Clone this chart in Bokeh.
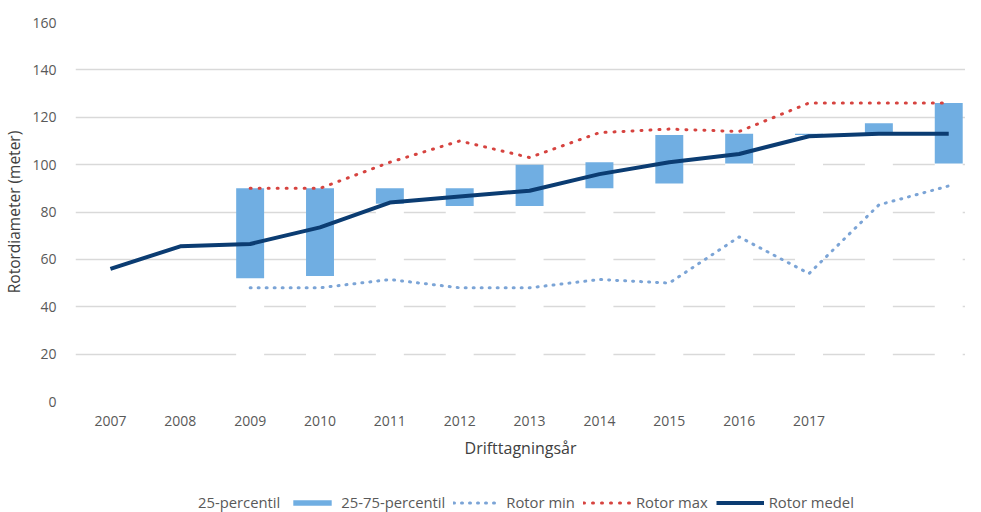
import numpy as np
from bokeh.plotting import figure
from bokeh.layouts import column
from bokeh.models import Range1d, Legend, LegendItem, FixedTicker
from bokeh.embed import file_html
from bokeh.resources import INLINE

nan = np.nan

# ---- data ----
years = ["2007", "2008", "2009", "2010", "2011", "2012", "2013", "2014",
         "2015", "2016", "2017", "", ""]
p25 = [nan, nan, 52, 53, 83.5, 82.5, 82.5, 90, 92, 100.5, 112.5, 113, 100.5]
p75 = [nan, nan, 90, 90, 90, 90, 100, 101, 112.5, 113, 113, 117.5, 126]
rotor_min = [nan, nan, 48, 48, 51.5, 48, 48, 51.5, 50, 69.5, 54, 83, 91]
rotor_max = [nan, nan, 90, 90, 101, 110, 103, 113.5, 115, 114, 126, 126, 126]
rotor_medel = [56, 65.5, 66.5, 73.5, 84, 86.5, 89, 96, 101, 104.5, 112, 113, 113]
y_ticks = [0, 20, 40, 60, 80, 100, 120, 140, 160]
labels = ["25-percentil", "25-75-percentil", "Rotor min", "Rotor max", "Rotor medel"]

x = list(range(len(years)))
FONT = "Open Sans"
TXT = "#595959"
C_IQR = "#70AEE2"
C_MIN = "#7BA4D6"
C_MAX = "#D6433F"
C_MED = "#0B3C72"

p = figure(width=965, height=472, output_backend="svg", toolbar_location=None,
           x_range=Range1d(-0.5, 12.24), y_range=Range1d(0, 160),
           min_border_left=67, min_border_right=0, min_border_top=22,
           min_border_bottom=71)
p.outline_line_color = None
p.background_fill_color = "white"
p.border_fill_color = "white"

# grid
p.xgrid.visible = False
p.ygrid.grid_line_color = "#d9d9d9"
p.ygrid.grid_line_width = 1.5

# axes
p.xaxis.ticker = FixedTicker(ticks=x[:11])
p.xaxis.major_label_overrides = {i: years[i] for i in range(11)}
p.yaxis.ticker = FixedTicker(ticks=y_ticks)
for ax in (p.xaxis[0], p.yaxis[0]):
    ax.axis_line_color = None
    ax.major_tick_line_color = None
    ax.minor_tick_line_color = None
    ax.major_label_text_font = FONT
    ax.major_label_text_font_size = "14px"
    ax.major_label_text_color = TXT
    ax.axis_label_text_font = FONT
    ax.axis_label_text_font_style = "normal"
    ax.axis_label_text_color = "#404040"
p.xaxis.axis_label = "Drifttagningsår"
p.xaxis.axis_label_text_font_size = "16px"
p.xaxis.major_label_standoff = 8
p.xaxis.axis_label_standoff = 8
p.yaxis.axis_label = "Rotordiameter (meter)"
p.yaxis.axis_label_text_font_size = "15.5px"
p.yaxis.major_label_standoff = 13
p.yaxis.axis_label_standoff = 4

# bars
bottoms = [0 if not np.isnan(v) else nan for v in p25]
p.vbar(x=x, bottom=bottoms, top=p25, width=0.4, fill_color="white", line_color=None)
p.vbar(x=x, bottom=p25, top=p75, width=0.4, fill_color=C_IQR, line_color=None)

# lines
p.line(x, rotor_min, line_color=C_MIN, line_width=3, line_dash="1 7", line_cap="round")
p.line(x, rotor_max, line_color=C_MAX, line_width=3, line_dash="1 8", line_cap="round")
p.line(x, rotor_medel, line_color=C_MED, line_width=4, line_join="round")

# ---- legend strip (separate figure so it is not clipped) ----
lg = figure(width=965, height=40, output_backend="svg", toolbar_location=None,
            x_range=Range1d(0, 1), y_range=Range1d(0, 1),
            x_axis_type=None, y_axis_type=None, min_border=0)
lg.outline_line_color = None
lg.xgrid.visible = False
lg.ygrid.visible = False
e = [nan]
g1 = lg.vbar(x=e, bottom=e, top=e, width=0.4, fill_color="white", line_color=None)
g2 = lg.vbar(x=e, bottom=e, top=e, width=0.4, fill_color=C_IQR, line_color=None)
g3 = lg.line(e, e, line_color=C_MIN, line_width=3, line_dash="1 7", line_cap="round")
g4 = lg.line(e, e, line_color=C_MAX, line_width=3, line_dash="1 8", line_cap="round")
g5 = lg.line(e, e, line_color=C_MED, line_width=4)

legend = Legend(items=[LegendItem(label=l, renderers=[r])
                       for l, r in zip(labels, [g1, g2, g3, g4, g5])],
                orientation="horizontal", location=(70, 0))
legend.label_text_font = FONT
legend.label_text_font_size = "14.8px"
legend.label_text_color = TXT
legend.glyph_width = 48
legend.glyph_height = 7
legend.label_height = 14
legend.label_standoff = 5
legend.spacing = 8
legend.padding = 0
legend.margin = 0
legend.border_line_color = None
legend.background_fill_alpha = 0
lg.add_layout(legend, "center")

layout = column(p, lg, spacing=0)
open("out.html", "w").write(file_html(layout, INLINE))
